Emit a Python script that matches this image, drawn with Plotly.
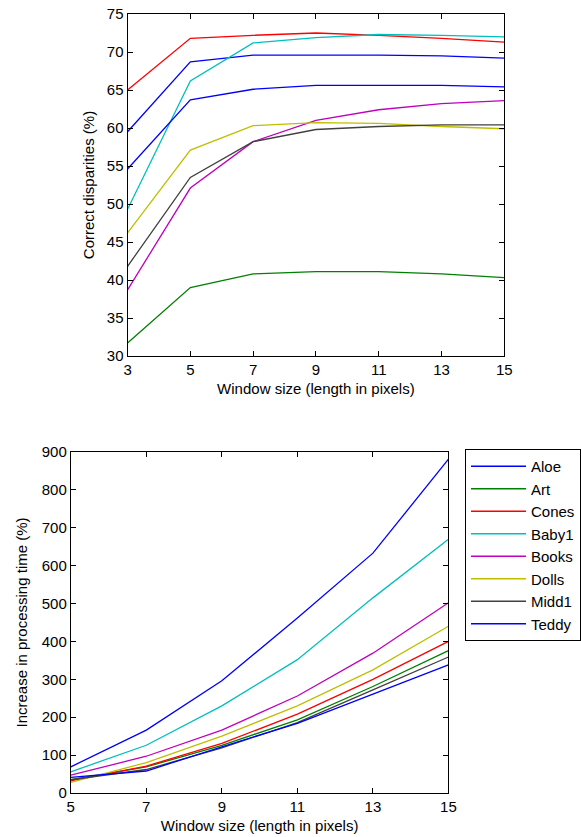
import plotly.graph_objects as go

names = ["Aloe", "Art", "Cones", "Baby1", "Books", "Dolls", "Midd1", "Teddy"]
colors = ["#0000ff", "#008000", "#ff0000", "#00bfbf", "#bf00bf", "#bfbf00", "#404040", "#0000ff"]

# Top chart: correct disparities (%) vs window size
win_top = [3, 5, 7, 9, 11, 13, 15]
acc_aloe = [59.5, 68.7, 69.6, 69.6, 69.6, 69.5, 69.2]
acc_art = [31.7, 39.0, 40.8, 41.1, 41.1, 40.8, 40.3]
acc_cones = [65.0, 71.8, 72.2, 72.5, 72.2, 71.8, 71.3]
acc_baby1 = [49.3, 66.2, 71.2, 71.9, 72.3, 72.2, 72.0]
acc_books = [38.7, 52.1, 58.2, 61.0, 62.4, 63.2, 63.6]
acc_dolls = [46.2, 57.1, 60.3, 60.7, 60.6, 60.2, 59.9]
acc_midd1 = [41.8, 53.5, 58.2, 59.8, 60.2, 60.4, 60.4]
acc_teddy = [54.6, 63.7, 65.1, 65.6, 65.6, 65.6, 65.4]

# Bottom chart: increase in processing time (%) vs window size
win_bot = [5, 7, 9, 11, 13, 15]
time_aloe = [69, 166, 296, 462, 633, 881]
time_art = [35, 69, 126, 193, 281, 376]
time_cones = [32, 71, 131, 208, 300, 400]
time_baby1 = [56, 126, 230, 352, 515, 670]
time_books = [47, 97, 166, 256, 369, 502]
time_dolls = [28, 80, 150, 230, 325, 440]
time_midd1 = [35, 62, 119, 186, 272, 359]
time_teddy = [41, 58, 122, 184, 261, 338]

acc_series = [acc_aloe, acc_art, acc_cones, acc_baby1, acc_books, acc_dolls, acc_midd1, acc_teddy]
time_series = [time_aloe, time_art, time_cones, time_baby1, time_books, time_dolls, time_midd1, time_teddy]

W, H = 581, 837
FONT = "Liberation Sans, Arial, sans-serif"

fig = go.Figure()
for n, c, ys in zip(names, colors, acc_series):
    fig.add_trace(go.Scatter(x=win_top, y=ys, mode="lines", name=n, showlegend=False,
                             line=dict(color=c, width=1.3), xaxis="x", yaxis="y"))
for n, c, ys in zip(names, colors, time_series):
    fig.add_trace(go.Scatter(x=win_bot, y=ys, mode="lines", name=n, showlegend=True,
                             line=dict(color=c, width=1.3), xaxis="x2", yaxis="y2"))

axis_common = dict(showline=True, linecolor="black", linewidth=1, mirror="ticks",
                   ticks="inside", ticklen=5, tickcolor="black", showgrid=False, zeroline=False,
                   automargin=False,
                   tickfont=dict(family=FONT, size=15, color="black"))

fig.update_layout(
    width=W, height=H,
    margin=dict(l=0, r=0, t=0, b=0),
    paper_bgcolor="white", plot_bgcolor="white",
    font=dict(family=FONT, size=15, color="black"),
    xaxis=dict(domain=[128 / W, 506 / W], anchor="y", range=[3, 15], tickvals=win_top,
               title=dict(text="Window size (length in pixels)", standoff=6,
                          font=dict(family=FONT, size=15)), **axis_common),
    yaxis=dict(domain=[1 - 356 / H, 1 - 14 / H], anchor="x", range=[30, 75], dtick=5,
               title=dict(text="Correct disparities (%)", standoff=8,
                          font=dict(family=FONT, size=15)), **axis_common),
    xaxis2=dict(domain=[71 / W, 450 / W], anchor="y2", range=[5, 15], tickvals=win_bot,
                title=dict(text="Window size (length in pixels)", standoff=6,
                           font=dict(family=FONT, size=15)), **axis_common),
    yaxis2=dict(domain=[1 - 793 / H, 1 - 452 / H], anchor="x2", range=[0, 900], dtick=100,
                title=dict(text="Increase in processing time (%)", standoff=10,
                           font=dict(family=FONT, size=15)), **axis_common),
    legend=dict(x=467 / W, y=1 - 449 / H, xanchor="left", yanchor="top",
                bordercolor="black", borderwidth=1, bgcolor="white",
                itemwidth=55,
                font=dict(family=FONT, size=15, color="black"), tracegroupgap=0),
)

fig.write_html("out.html", config={"displayModeBar": False},
               post_script="document.body.style.margin='0px';")
